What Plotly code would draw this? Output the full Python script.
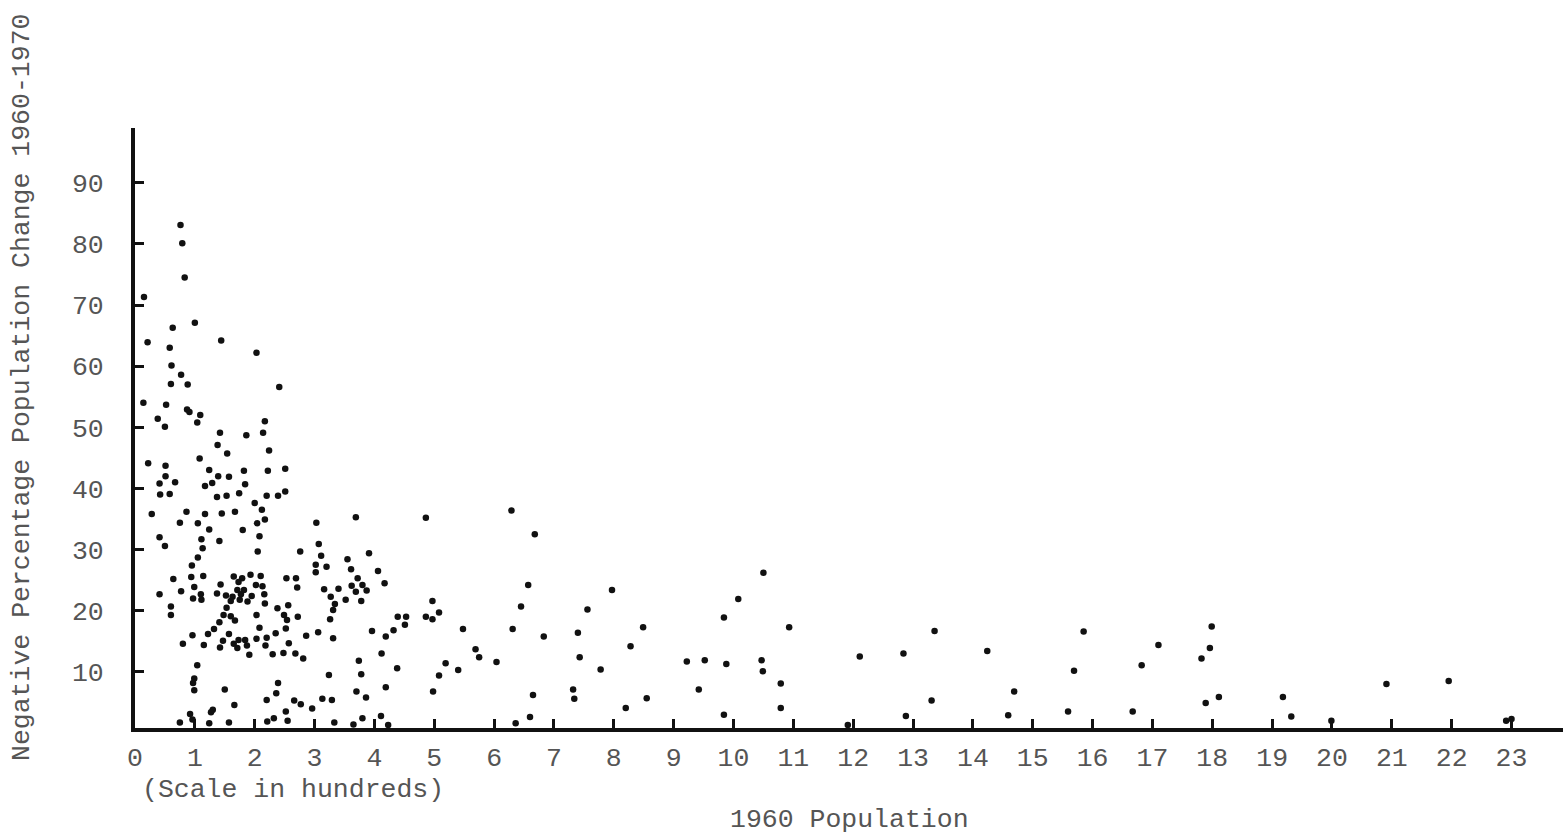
import plotly.graph_objects as go

# 1960 population (in hundreds)
pop_1960 = [
    0.76, 0.79, 0.83, 0.15, 0.63, 1.00, 0.21, 1.44, 0.58, 2.03, 0.61, 0.77, 0.60, 0.88, 2.41,
    0.14, 0.52, 0.87, 0.91, 1.09, 0.38, 0.50, 1.04, 2.17, 1.42, 1.86, 2.14, 1.38, 1.54, 2.24,
    1.08, 0.22, 0.51,
    1.24, 1.82, 2.22, 2.51, 0.51, 0.41, 0.67, 1.17, 1.29, 1.39, 1.57, 1.84, 0.42, 0.58, 1.37,
    1.53, 1.74, 2.20, 2.39, 2.51, 2.00, 2.12, 0.28, 0.86, 1.17, 1.45, 1.67, 0.75, 1.05, 2.04,
    2.17, 1.24, 1.80, 2.08, 0.41, 0.50, 1.11, 1.41, 1.13, 2.05, 1.05, 0.95, 0.64, 0.94, 1.14,
    1.65, 1.79, 1.93, 2.10, 2.53, 1.43, 1.73, 2.02, 2.13, 0.99, 0.77, 1.71, 1.82, 0.41, 1.10,
    1.37, 1.52, 1.63, 1.77, 1.95, 2.16, 0.97, 1.11, 1.60, 1.75, 1.88, 2.17, 1.53, 0.60, 0.60,
    2.38, 2.56, 1.48, 1.60, 2.03, 2.49, 1.41, 1.67, 2.54, 2.08, 1.32, 2.52, 0.96, 1.22, 1.57,
    2.35, 1.47, 1.73, 1.84, 2.03, 2.20, 0.80, 1.15, 1.42, 1.65, 1.71, 1.87, 2.18, 2.57, 1.91,
    2.30, 2.48, 1.04, 0.99, 0.97, 0.99, 1.50, 2.39, 2.36, 2.20, 1.66, 1.30, 1.27, 0.92, 2.52,
    2.32, 2.21, 0.75, 0.96, 1.24, 1.57, 2.55,
    3.03, 3.69, 4.86, 3.07, 2.76, 3.91, 3.11, 3.55, 3.02, 3.02, 3.20, 3.61, 4.06, 2.69, 3.72,
    4.17, 2.71, 3.16, 3.40, 3.62, 3.80, 3.87, 3.69, 3.27, 3.78, 3.52, 3.34, 3.31, 2.72, 3.26,
    4.39, 4.53, 4.86, 4.97, 4.97, 5.08, 4.51, 3.96, 3.06, 4.32, 2.86, 3.31, 4.19, 2.68, 2.81,
    4.12, 3.74, 5.19, 5.40, 4.38, 3.24, 3.78, 5.08, 4.19, 3.70, 4.98, 3.86, 2.66, 2.77, 3.13,
    3.29, 2.96, 3.33, 3.80, 4.11, 3.65, 4.23,
    6.29, 6.68, 6.57, 7.97, 6.45, 7.56, 5.48, 6.31, 7.40, 8.49, 6.83, 5.69, 5.75, 7.43, 8.28,
    6.04, 9.22, 7.78, 6.65, 7.32, 7.34, 8.55, 8.20, 9.42, 6.60, 6.36,
    10.50, 10.08, 9.84, 10.93, 13.36, 9.52, 9.88, 10.47, 10.49, 12.11, 12.84, 14.24, 10.79,
    10.79, 13.31, 9.84, 12.88, 11.91,
    15.85, 17.99, 17.10, 17.96, 17.82, 16.82, 15.69, 14.69, 18.11, 17.89, 14.59, 15.59, 16.67,
    19.18, 19.32, 20.91, 21.95, 22.91, 23.00, 19.99,
]

# Negative percentage population change 1960-1970
neg_change = [
    83.1, 80.1, 74.5, 71.3, 66.3, 67.1, 63.9, 64.2, 63.0, 62.2, 60.1, 58.6, 57.1, 57.0, 56.6,
    54.0, 53.7, 52.9, 52.5, 52.0, 51.4, 50.1, 50.8, 51.0, 49.1, 48.7, 49.1, 47.1, 45.7, 46.2,
    44.9, 44.1, 43.7,
    43.0, 42.9, 42.9, 43.2, 42.0, 40.8, 41.0, 40.4, 40.9, 42.0, 41.9, 40.7, 39.0, 39.1, 38.6,
    38.8, 39.2, 38.8, 38.8, 39.5, 37.6, 36.5, 35.8, 36.2, 35.8, 35.9, 36.2, 34.4, 34.3, 34.3,
    34.9, 33.3, 33.2, 32.2, 32.0, 30.6, 31.7, 31.4, 30.2, 29.7, 28.7, 27.4, 25.2, 25.5, 25.7,
    25.6, 25.3, 25.9, 25.7, 25.3, 24.3, 24.7, 24.2, 24.0, 23.9, 23.2, 23.4, 23.4, 22.7, 22.7,
    22.8, 22.5, 22.3, 22.7, 22.4, 22.7, 22.0, 21.8, 21.6, 21.8, 21.5, 21.2, 20.5, 20.7, 19.3,
    20.4, 20.9, 19.3, 19.1, 19.3, 19.3, 18.1, 18.4, 18.5, 17.2, 17.0, 17.1, 16.0, 16.2, 16.2,
    16.3, 15.1, 15.2, 15.2, 15.4, 15.6, 14.6, 14.4, 14.0, 14.6, 13.9, 14.3, 14.3, 14.7, 12.8,
    12.9, 13.1, 11.1, 8.9, 8.2, 7.0, 7.1, 8.2, 6.5, 5.4, 4.6, 3.8, 3.4, 3.1, 3.5,
    2.4, 1.9, 1.7, 2.2, 1.6, 1.7, 2.0,
    34.4, 35.3, 35.2, 30.9, 29.7, 29.4, 29.0, 28.4, 27.5, 26.3, 27.2, 26.8, 26.5, 25.3, 25.3,
    24.5, 23.8, 23.5, 23.6, 24.1, 24.2, 23.3, 23.1, 22.3, 21.6, 21.8, 21.1, 20.1, 19.0, 18.6,
    19.0, 19.0, 19.0, 18.6, 21.6, 19.7, 17.7, 16.7, 16.5, 16.8, 15.9, 15.5, 15.8, 13.0, 12.2,
    13.0, 11.8, 11.4, 10.3, 10.6, 9.5, 9.6, 9.4, 7.5, 6.8, 6.8, 5.8, 5.3, 4.7, 5.6,
    5.4, 4.0, 1.7, 2.4, 2.8, 1.4, 1.3,
    36.4, 32.5, 24.2, 23.4, 20.7, 20.2, 17.0, 17.0, 16.4, 17.3, 15.8, 13.7, 12.4, 12.4, 14.2,
    11.6, 11.7, 10.4, 6.2, 7.1, 5.6, 5.7, 4.1, 7.1, 2.6, 1.6,
    26.2, 21.9, 18.9, 17.3, 16.7, 11.9, 11.3, 11.9, 10.1, 12.5, 13.0, 13.4, 8.1,
    4.1, 5.3, 3.0, 2.8, 1.3,
    16.6, 17.4, 14.4, 13.9, 12.2, 11.1, 10.2, 6.8, 5.9, 4.9, 2.9, 3.5, 3.5,
    5.9, 2.7, 8.0, 8.5, 2.0, 2.3, 2.0,
]

x_ticks = list(range(0, 24))
x_tick_labels = [str(v) for v in x_ticks]
y_ticks = [10, 20, 30, 40, 50, 60, 70, 80, 90]
y_tick_labels = [str(v) for v in y_ticks]

FONT = "Liberation Mono, Courier New, monospace"
TXT = "#555555"
FS = 26.5

fig = go.Figure(
    go.Scatter(
        x=pop_1960, y=neg_change, mode="markers",
        marker=dict(size=6.5, color="#111111", line=dict(width=0)),
        cliponaxis=False, hoverinfo="skip",
    )
)

fig.update_layout(
    width=1563, height=837,
    margin=dict(l=135, r=0, t=128, b=109),
    paper_bgcolor="white", plot_bgcolor="white",
    showlegend=False,
    font=dict(family=FONT, size=FS, color=TXT),
    xaxis=dict(
        range=[0, 23.86], showgrid=False, zeroline=False,
        showline=True, linecolor="#111111", linewidth=4,
        ticks="inside", ticklen=9, tickwidth=3, tickcolor="#111111",
        tickvals=x_ticks, ticktext=x_tick_labels,
        tickfont=dict(family=FONT, size=FS, color=TXT),
        ticklabelstandoff=2,
    ),
    yaxis=dict(
        range=[0.82, 98.95], showgrid=False, zeroline=False,
        showline=True, linecolor="#111111", linewidth=4,
        ticks="inside", ticklen=9, tickwidth=3, tickcolor="#111111",
        tickvals=y_ticks, ticktext=y_tick_labels,
        tickfont=dict(family=FONT, size=FS, color=TXT),
        ticklabelstandoff=22,
    ),
    annotations=[
        dict(text="(Scale in hundreds)", xref="paper", yref="paper",
             x=0.0035, y=-0.103, xanchor="left", yanchor="middle",
             showarrow=False, font=dict(family=FONT, size=FS, color=TXT)),
        dict(text="1960 Population", xref="paper", yref="paper",
             x=0.5, y=-0.153, xanchor="center", yanchor="middle",
             showarrow=False, font=dict(family=FONT, size=FS, color=TXT)),
        dict(text="Negative Percentage Population Change 1960-1970", xref="paper", yref="paper",
             x=-0.079, y=0.567, xanchor="center", yanchor="middle", textangle=-90,
             showarrow=False, font=dict(family=FONT, size=FS, color=TXT)),
    ],
)

fig.write_html("out.html")
